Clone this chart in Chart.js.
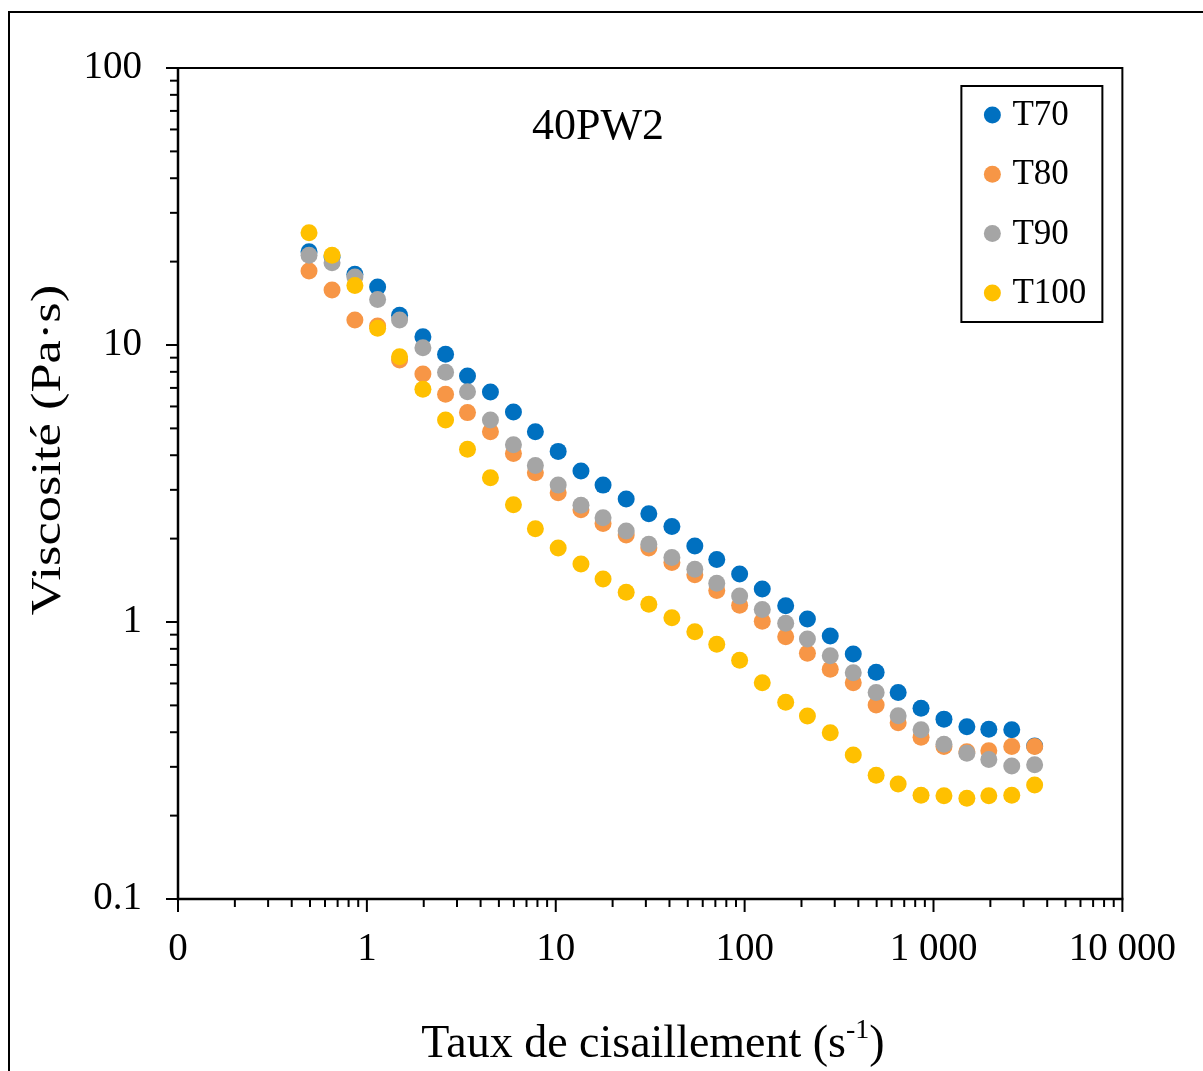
<!DOCTYPE html>
<html>
<head>
<meta charset="utf-8">
<script src="https://cdn.jsdelivr.net/npm/chart.js@4.4.1/dist/chart.umd.min.js"></script>
<style>
  html, body { margin: 0; padding: 0; background: #fff; }
  canvas { display: block; }
</style>
</head>
<body>
<canvas id="visco-chart" width="1203" height="1071"></canvas>
<script>
// shear rate (s-1)
const shearRate = [0.494, 0.654, 0.864, 1.14, 1.49, 1.98, 2.61, 3.41, 4.51, 5.97, 7.80,
  10.3, 13.6, 17.8, 23.6, 31.1, 41.2, 54.5, 71.2, 94.1, 124, 165, 215, 284, 376, 497,
  650, 859, 1136, 1502, 1963, 2596, 3432];

// viscosity (Pa.s) per temperature
const t70 = [21.7, 20.8, 18.0, 16.2, 12.8, 10.7, 9.26, 7.73, 6.77, 5.73, 4.86, 4.13, 3.51,
  3.12, 2.78, 2.46, 2.21, 1.88, 1.68, 1.49, 1.315, 1.145, 1.025, 0.890, 0.766, 0.658,
  0.557, 0.488, 0.446, 0.419, 0.410, 0.408, 0.357];
const t80 = [18.5, 15.8, 12.3, 11.7, 8.83, 7.86, 6.64, 5.70, 4.86, 4.06, 3.46, 2.93, 2.54,
  2.27, 2.06, 1.85, 1.64, 1.48, 1.30, 1.15, 1.006, 0.885, 0.771, 0.675, 0.604, 0.502,
  0.433, 0.384, 0.355, 0.340, 0.343, 0.355, 0.355];
const t90 = [21.1, 19.8, 17.6, 14.6, 12.3, 9.78, 7.97, 6.78, 5.36, 4.36, 3.67, 3.12, 2.64,
  2.38, 2.13, 1.91, 1.71, 1.55, 1.38, 1.24, 1.11, 0.989, 0.868, 0.756, 0.656, 0.556,
  0.459, 0.408, 0.362, 0.336, 0.319, 0.302, 0.305];
const t100 = [25.4, 21.1, 16.4, 11.5, 9.07, 6.92, 5.36, 4.20, 3.32, 2.65, 2.17, 1.85, 1.62,
  1.43, 1.28, 1.16, 1.036, 0.923, 0.831, 0.727, 0.604, 0.513, 0.458, 0.398, 0.331, 0.280,
  0.260, 0.237, 0.236, 0.231, 0.236, 0.237, 0.258];

const seriesNames = ["T70", "T80", "T90", "T100"];
const seriesColors = ["#0070C0", "#F79646", "#A5A5A5", "#FFC000"];

const xMajorTicks = [0.1, 1, 10, 100, 1000, 10000];
const xTickLabels = ["0", "1", "10", "100", "1 000", "10 000"];
const yMajorTicks = [0.1, 1, 10, 100];
const yTickLabels = ["0.1", "1", "10", "100"];

const chartTitle = "40PW2";
const FONT = "'Liberation Serif', 'Times New Roman', serif";

function isSame(a, b) {
  return Math.abs(Math.log10(a) - Math.log10(b)) < 1e-6;
}

function labelFor(value, majors, labels) {
  const i = majors.findIndex((m) => isSame(m, value));
  return i >= 0 ? labels[i] : "";
}

// keep only 1..9 x 10^n ticks (drop the 15, 150 ... that chart.js adds)
function keepDecadeTicks(scale) {
  scale.ticks = scale.ticks.filter((t) => {
    const m = t.value / Math.pow(10, Math.floor(Math.log10(t.value) + 1e-9));
    return Math.abs(m - Math.round(m)) < 1e-6;
  });
}

function renderChart() {
  const ctx = document.getElementById("visco-chart");

  const decorations = {
    id: "decorations",
    beforeDraw: (chart) => {
      const { ctx } = chart;
      ctx.save();
      ctx.fillStyle = "#fff";
      ctx.fillRect(0, 0, chart.width, chart.height);
      ctx.restore();
    },
    afterDraw: (chart) => {
      const { ctx, chartArea: a } = chart;
      const xs = chart.scales.x;
      const ys = chart.scales.y;
      ctx.save();
      ctx.strokeStyle = "#000";
      ctx.lineCap = "butt";

      // outer frame of the picture
      ctx.lineWidth = 2;
      ctx.beginPath();
      ctx.moveTo(9, chart.height + 5);
      ctx.lineTo(9, 12);
      ctx.lineTo(chart.width + 5, 12);
      ctx.stroke();

      // plot box
      ctx.lineWidth = 2;
      ctx.beginPath();
      ctx.moveTo(a.left, a.top);
      ctx.lineTo(a.right, a.top);
      ctx.lineTo(a.right, a.bottom);
      ctx.stroke();
      ctx.lineWidth = 2.5;
      ctx.beginPath();
      ctx.moveTo(a.left, a.top - 1);
      ctx.lineTo(a.left, a.bottom);
      ctx.lineTo(a.right + 1, a.bottom);
      ctx.stroke();

      // tick marks
      ctx.lineWidth = 2;
      xs.ticks.forEach((t) => {
        const px = xs.getPixelForValue(t.value);
        const len = labelFor(t.value, xMajorTicks, xTickLabels) ? 13 : 8;
        ctx.beginPath();
        ctx.moveTo(px, a.bottom);
        ctx.lineTo(px, a.bottom + len);
        ctx.stroke();
      });
      ys.ticks.forEach((t) => {
        const py = ys.getPixelForValue(t.value);
        const len = labelFor(t.value, yMajorTicks, yTickLabels) ? 12 : 8;
        ctx.beginPath();
        ctx.moveTo(a.left, py);
        ctx.lineTo(a.left - len, py);
        ctx.stroke();
      });

      ctx.fillStyle = "#000";

      // chart title inside the plot
      ctx.font = "44px " + FONT;
      ctx.textAlign = "center";
      ctx.textBaseline = "middle";
      ctx.fillText(chartTitle, a.left + 420, a.top + 59);

      // x axis title with superscript
      const main1 = "Taux de cisaillement (s";
      const sup = "-1";
      const main2 = ")";
      ctx.textAlign = "left";
      ctx.textBaseline = "alphabetic";
      ctx.font = "46px " + FONT;
      const w1 = ctx.measureText(main1).width;
      const w3 = ctx.measureText(main2).width;
      ctx.font = "28px " + FONT;
      const w2 = ctx.measureText(sup).width;
      const total = w1 + w2 + w3;
      const tx = 653 - total / 2;
      const baseY = 1057;
      ctx.font = "46px " + FONT;
      ctx.fillText(main1, tx, baseY);
      ctx.font = "28px " + FONT;
      ctx.fillText(sup, tx + w1, baseY - 19);
      ctx.font = "46px " + FONT;
      ctx.fillText(main2, tx + w1 + w2, baseY);

      // y axis title (stretched along its length like the original)
      ctx.save();
      ctx.translate(49, 450);
      ctx.rotate(-Math.PI / 2);
      ctx.scale(1.22, 1);
      ctx.font = "43px " + FONT;
      ctx.textAlign = "center";
      ctx.textBaseline = "middle";
      ctx.fillText("Viscosité (Pa·s)", 0, 0);
      ctx.restore();

      // legend box
      const lx = a.right - 161;
      const ly = a.top + 18;
      ctx.lineWidth = 2;
      ctx.strokeRect(lx, ly, 141, 236);
      ctx.font = "35px " + FONT;
      ctx.textAlign = "left";
      ctx.textBaseline = "middle";
      chart.data.datasets.forEach((ds, i) => {
        const ry = ly + 29 + i * 59.3;
        ctx.fillStyle = ds.backgroundColor;
        ctx.beginPath();
        ctx.arc(lx + 31, ry, 8.5, 0, Math.PI * 2);
        ctx.fill();
        ctx.fillStyle = "#000";
        ctx.fillText(ds.label, lx + 51, ry + 1);
      });

      ctx.restore();
    },
  };

  const seriesValues = [t70, t80, t90, t100];
  const datasets = seriesValues.map((vals, i) => ({
    label: seriesNames[i],
    data: vals.map((v, j) => ({ x: shearRate[j], y: v })),
    backgroundColor: seriesColors[i],
    borderColor: seriesColors[i],
    borderWidth: 0,
    pointRadius: 8.5,
    pointHoverRadius: 8.5,
    showLine: false,
    order: seriesValues.length - i, // T100 on top, T70 at the bottom
  }));

  new Chart(ctx, {
    type: "scatter",
    data: { datasets },
    options: {
      responsive: false,
      animation: false,
      devicePixelRatio: 1,
      layout: { autoPadding: false, padding: { top: 68, right: 78, left: 0, bottom: 0 } },
      plugins: {
        legend: { display: false },
        tooltip: { enabled: false },
      },
      scales: {
        x: {
          type: "logarithmic",
          min: 0.1,
          max: 10000,
          grid: { display: false, drawTicks: false },
          border: { display: false },
          afterBuildTicks: keepDecadeTicks,
          afterFit: (scale) => { scale.height = 172; },
          ticks: {
            autoSkip: false,
            maxRotation: 0,
            padding: 27,
            color: "#000",
            font: { family: FONT, size: 39 },
            callback: (value) => labelFor(value, xMajorTicks, xTickLabels),
          },
        },
        y: {
          type: "logarithmic",
          min: 0.1,
          max: 100,
          grid: { display: false, drawTicks: false },
          border: { display: false },
          afterBuildTicks: keepDecadeTicks,
          afterFit: (scale) => { scale.width = 178; },
          ticks: {
            autoSkip: false,
            padding: 36,
            color: "#000",
            font: { family: FONT, size: 39 },
            callback: (value) => labelFor(value, yMajorTicks, yTickLabels),
          },
        },
      },
    },
    plugins: [decorations],
  });
}

renderChart();
</script>
</body>
</html>
